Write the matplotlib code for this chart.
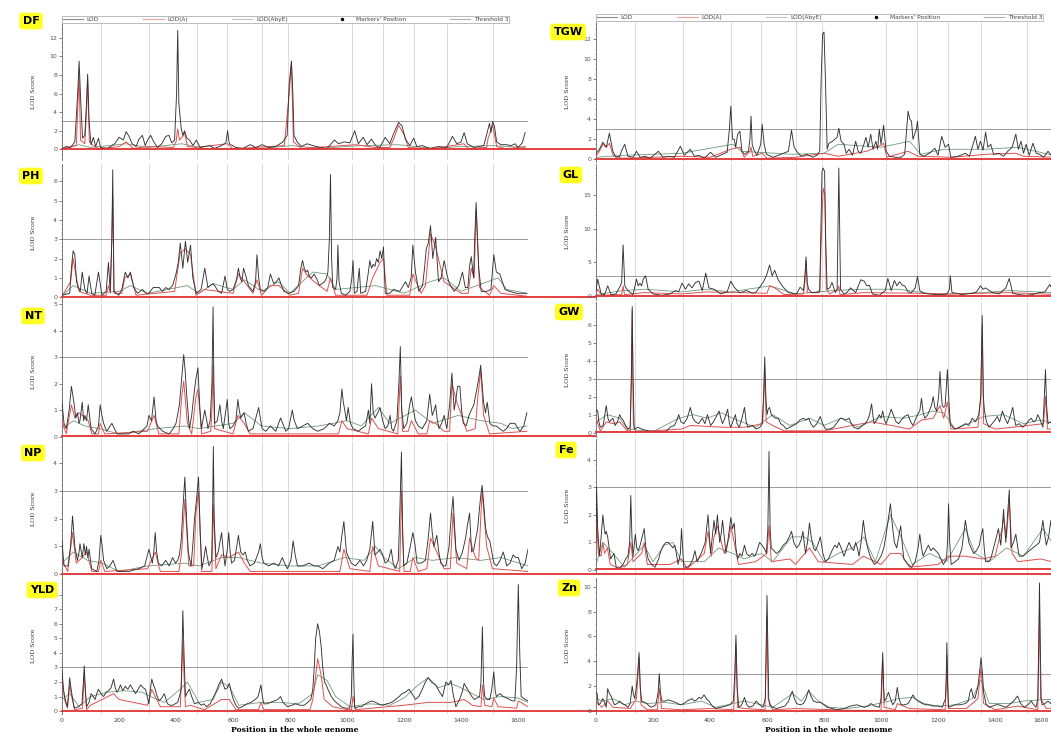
import matplotlib
matplotlib.use("Agg")
import matplotlib.pyplot as plt
from matplotlib.lines import Line2D
from matplotlib.transforms import ScaledTranslation

# QTL scans along the whole genome, 10 traits, LOD / LOD(A) / LOD(AbyE)

chrom_ends = [136, 305, 472, 578, 701, 794, 1017, 1127, 1234, 1350, 1511]
x_ticks = [0, 200, 400, 600, 800, 1000, 1200, 1400, 1600]
threshold = 3

# ---- DF ----
df_lod = [(0,0.1),(15,0.3),(30,0.2),(45,0.8),(55,6),(60,9.5),(66,5),(72,1.2),(80,1.5),(86,5),(90,8.1),(95,3),(102,0.5),(110,1.3),(118,0.3),(128,1.2),(135,0.2),(160,0.1),(185,0.6),(200,1.3),(215,1),(225,1.9),(235,1.4),(246,0.6),(260,0.3),(270,1.1),(282,1.5),(292,0.4),(302,1.1),(311,1.5),(322,0.8),(335,0.2),(350,0.6),(364,1.4),(375,1.5),(385,0.7),(395,1),(402,6),(406,12.8),(410,5),(418,2.3),(424,1.5),(430,2),(438,1.2),(447,1),(460,0.4),(471,1),(485,0.2),(500,0.3),(518,0.4),(535,0.1),(560,0.4),(575,0.7),(581,2),(587,0.6),(610,0.2),(635,0.1),(660,0.5),(680,0.2),(702,0.5),(725,0.2),(750,0.3),(775,0.8),(790,1.5),(797,7),(805,9.5),(810,6),(814,1.5),(825,0.8),(840,0.3),(860,0.6),(880,0.4),(905,0.2),(930,0.1),(956,1),(970,0.6),(990,0.8),(1010,0.7),(1027,2),(1040,0.6),(1057,1.3),(1070,0.5),(1086,1.1),(1100,0.4),(1115,0.2),(1134,1.3),(1150,0.6),(1165,1.8),(1181,2.9),(1193,2.5),(1205,1.1),(1220,0.4),(1234,1.2),(1245,0.3),(1264,0.4),(1290,0.1),(1320,0.3),(1350,0.2),(1370,1.4),(1385,0.6),(1400,0.8),(1411,1.8),(1422,0.6),(1445,0.2),(1480,0.4),(1500,2.8),(1505,1.8),(1511,3.0),(1517,2.5),(1525,0.8),(1540,0.5),(1560,0.5),(1575,0.4),(1590,0.6),(1600,0.2),(1615,0.7),(1625,1.8)]
df_a = [(0,0.05),(50,0.4),(56,5),(60,8.0),(65,1),(80,0.6),(86,4),(90,7.5),(96,0.8),(110,0.4),(130,0.05),(200,0.3),(225,0.8),(250,0.1),(300,0.3),(390,0.2),(400,0.8),(406,2.2),(412,1),(424,1.4),(430,1.8),(440,0.3),(470,0.2),(580,0.6),(600,0.05),(780,0.4),(797,6),(805,9.2),(812,0.8),(840,0.1),(1030,0.5),(1100,0.2),(1150,0.2),(1165,1.2),(1181,2.6),(1200,1.6),(1215,0.2),(1300,0.05),(1410,0.6),(1425,0.1),(1490,0.2),(1495,1.2),(1511,2.6),(1525,0.3),(1560,0.05),(1625,0.3)]
df_axe = [(0,0.05),(60,0.5),(100,0.2),(225,0.6),(300,0.2),(420,0.6),(500,0.1),(700,0.1),(805,0.4),(900,0.1),(1050,0.4),(1180,0.5),(1300,0.1),(1400,0.3),(1510,0.4),(1625,0.2)]

# ---- TGW ----
tgw_lod = [(0,0.6),(12,1.0),(24,1.7),(36,1.2),(47,2.6),(59,0.8),(70,0.2),(83,0.3),(92,1.0),(101,1.5),(112,0.3),(130,0.2),(142,0.8),(155,0.2),(172,0.3),(190,0.1),(219,0.8),(235,0.2),(254,0.3),(275,0.2),(296,1.3),(310,0.4),(331,1.0),(345,0.3),(361,0.4),(380,0.1),(402,0.7),(420,0.2),(444,0.5),(460,0.7),(468,3),(473,5.3),(479,2),(485,2.0),(490,1.2),(497,2.5),(505,2.8),(512,0.8),(521,0.5),(535,0.8),(540,2),(544,4.3),(548,1.5),(553,1.0),(565,0.4),(578,1.5),(583,3.5),(590,1.5),(598,0.5),(620,0.2),(640,0.4),(657,0.6),(675,0.8),(686,2.9),(695,1.2),(704,0.8),(720,0.3),(740,0.5),(760,0.2),(775,0.4),(785,0.8),(790,8),(795,12.5),(800,12.7),(805,8),(811,1.0),(817,1.6),(830,1.8),(846,2.2),(852,3.1),(860,1.8),(870,1.5),(878,0.6),(888,1.0),(900,0.4),(911,1.8),(920,0.8),(929,0.6),(940,1.5),(947,2.2),(955,1.2),(964,2.5),(972,1.0),(982,1.8),(988,1.0),(994,3.0),(1000,1.5),(1009,3.4),(1018,0.8),(1030,0.3),(1050,0.2),(1070,0.2),(1083,0.5),(1090,3),(1095,4.8),(1101,4.0),(1107,3.8),(1112,2.0),(1118,2.5),(1124,3),(1128,3.8),(1136,0.5),(1150,0.3),(1170,0.6),(1189,1.1),(1200,0.4),(1213,2.3),(1225,1.2),(1237,1.5),(1245,0.2),(1270,0.3),(1296,0.6),(1310,0.3),(1320,1.2),(1331,2.3),(1340,1.0),(1349,1.8),(1358,0.9),(1367,2.7),(1375,1.2),(1385,1.5),(1395,0.5),(1414,0.6),(1430,0.3),(1445,0.8),(1460,1.2),(1473,2.5),(1482,1.0),(1491,1.8),(1500,0.6),(1509,1.5),(1520,0.4),(1533,1.6),(1545,0.6),(1556,0.5),(1570,0.2),(1586,0.8),(1600,0.3),(1620,0.4)]
tgw_a = [(0,0.3),(12,0.8),(24,1.5),(36,1.2),(47,1.6),(60,0.4),(90,0.1),(300,0.3),(400,0.2),(473,1.0),(505,1.2),(520,0.2),(540,0.8),(544,1.2),(550,0.3),(583,0.6),(600,0.1),(700,0.2),(800,0.6),(850,0.3),(950,0.8),(1000,1.4),(1009,1.6),(1020,0.2),(1095,0.8),(1130,0.3),(1250,0.2),(1370,0.5),(1473,0.6),(1500,0.3),(1620,0.2)]
tgw_axe = [(0,0.2),(100,0.4),(300,0.6),(480,1.5),(510,0.8),(690,0.5),(800,0.6),(850,1.5),(1000,1.2),(1100,1.8),(1140,0.5),(1220,1.0),(1370,1.0),(1480,1.2),(1620,0.3)]

# ---- PH ----
ph_lod = [(0,0.1),(27,0.2),(33,1.5),(39,2.4),(45,2.2),(51,0.8),(57,0.5),(64,0.3),(71,1.3),(80,0.4),(88,0.2),(95,1.1),(104,0.2),(115,0.1),(128,1.3),(140,0.1),(155,0.3),(163,1.8),(169,0.3),(175,3),(178,6.6),(182,0.3),(199,0.1),(210,0.4),(222,1.3),(231,1.0),(240,1.3),(252,0.5),(265,0.2),(282,0.4),(295,0.2),(305,0.2),(320,0.5),(341,0.5),(352,0.3),(364,0.5),(375,0.4),(388,0.6),(400,1.2),(408,1.8),(415,2.8),(424,1.5),(433,2.9),(441,1.8),(451,2.7),(459,1.0),(471,0.2),(488,0.4),(501,1.5),(512,0.5),(520,0.6),(530,0.7),(540,0.5),(548,0.3),(560,0.2),(572,1.1),(580,0.4),(589,0.3),(600,0.4),(612,0.9),(619,1.5),(625,1.0),(631,0.8),(637,1.5),(645,1.1),(654,0.6),(670,0.3),(679,0.8),(684,2.2),(690,1.0),(696,0.4),(710,0.3),(722,0.5),(731,1.2),(743,0.7),(752,0.8),(761,1.0),(770,0.6),(779,0.3),(795,0.2),(814,0.3),(830,0.6),(838,1.5),(844,1.9),(850,1.5),(856,1.3),(862,1.4),(867,1.1),(875,1.0),(885,1.2),(895,0.9),(903,0.6),(912,0.7),(921,0.8),(928,1.0),(933,1.3),(938,3),(942,6.35),(946,2),(950,0.5),(960,0.4),(965,1.0),(968,2.7),(972,0.8),(980,0.2),(995,0.1),(1010,0.3),(1017,1.0),(1021,1.9),(1026,0.2),(1035,0.3),(1043,1.5),(1048,0.2),(1065,0.3),(1075,1.3),(1080,1.9),(1086,1.5),(1092,1.7),(1098,1.6),(1104,2.0),(1110,1.8),(1116,2.4),(1122,2.0),(1128,2.6),(1134,0.2),(1150,0.2),(1163,0.4),(1185,0.3),(1205,0.8),(1215,0.5),(1225,1.0),(1231,2.7),(1240,1.3),(1252,0.3),(1265,0.6),(1272,1.5),(1278,2.5),(1285,2.8),(1293,3.7),(1301,2.0),(1311,3.1),(1321,0.8),(1330,1.0),(1341,1.9),(1350,1.2),(1359,0.7),(1376,0.3),(1392,0.6),(1405,1.3),(1415,0.5),(1424,0.5),(1430,1.6),(1436,2.1),(1444,1.0),(1448,3.0),(1453,4.9),(1458,3.0),(1462,1.5),(1471,0.3),(1490,0.3),(1505,0.4),(1515,2.2),(1524,1.3),(1536,1.2),(1545,0.8),(1554,0.4),(1571,0.3),(1595,0.2),(1631,0.2)]
ph_a = [(0,0.05),(30,0.8),(39,2.0),(48,1.2),(60,0.3),(100,0.1),(155,0.1),(163,0.6),(170,0.2),(178,5.2),(183,0.2),(210,0.2),(220,1.0),(240,1.2),(260,0.1),(395,0.3),(415,2.3),(433,2.5),(451,2.2),(470,0.1),(500,0.4),(600,0.2),(619,1.2),(640,0.8),(670,0.2),(684,0.9),(700,0.1),(731,0.6),(761,0.6),(800,0.1),(830,0.2),(844,1.5),(862,1.1),(885,0.8),(930,0.3),(942,1.0),(960,0.1),(1070,0.1),(1090,1.0),(1116,1.8),(1128,2.0),(1140,0.1),(1220,0.1),(1231,1.2),(1260,0.2),(1275,0.6),(1293,3.3),(1311,2.6),(1340,0.8),(1400,0.2),(1425,0.2),(1436,1.5),(1446,1.0),(1453,4.5),(1465,0.5),(1500,0.1),(1515,0.6),(1540,0.2),(1631,0.05)]
ph_axe = [(0,0.05),(39,0.6),(100,0.2),(200,0.3),(240,0.6),(300,0.2),(440,0.6),(480,0.2),(530,0.7),(600,0.4),(640,0.9),(700,0.3),(760,0.8),(800,0.2),(850,0.9),(880,1.3),(930,1.2),(960,0.4),(1100,0.6),(1200,0.2),(1290,0.8),(1340,1.0),(1400,0.3),(1530,1.0),(1560,0.4),(1631,0.2)]

# ---- GL ----
gl_lod = [(0,0.8),(6,2.5),(18,0.3),(30,0.2),(41,1.5),(53,0.2),(70,0.3),(83,1.3),(90,2),(95,7.6),(101,1.5),(112,0.8),(130,0.2),(142,2.5),(148,1.5),(154,1.9),(160,1.5),(166,2.5),(174,3.0),(183,1.0),(201,0.3),(231,0.1),(260,0.3),(278,0.8),(290,0.6),(302,1.9),(314,1.0),(325,1.8),(337,1.2),(349,2.0),(361,2.2),(373,0.8),(385,3.4),(396,1.2),(414,1.0),(438,0.3),(460,0.6),(473,2.2),(485,1.3),(503,0.5),(515,0.6),(527,0.8),(550,0.4),(562,0.6),(574,1.3),(586,2.0),(598,3.0),(609,4.6),(618,3.0),(627,3.8),(639,2.4),(657,1.3),(675,0.5),(704,0.3),(716,1.3),(728,0.8),(733,3),(737,5.8),(741,2),(746,1.0),(757,0.5),(775,0.5),(785,0.8),(789,10),(793,18.5),(797,19.0),(802,18.5),(806,8),(811,1.0),(820,1.2),(828,2.0),(840,0.5),(846,1.0),(849,10),(852,19.0),(855,10),(858,1.0),(870,0.3),(880,0.5),(893,1.2),(911,0.5),(929,2.4),(941,2.2),(950,1.5),(959,1.6),(970,0.3),(994,0.1),(1015,0.8),(1024,2.6),(1036,0.8),(1047,2.3),(1056,1.5),(1065,2.1),(1075,1.6),(1083,1.5),(1095,0.6),(1107,0.5),(1120,1.2),(1128,2.9),(1136,0.8),(1150,0.4),(1166,0.3),(1201,0.2),(1231,0.3),(1240,1.0),(1243,3.0),(1249,0.5),(1265,0.4),(1284,0.2),(1300,0.3),(1320,0.4),(1335,0.6),(1349,1.5),(1358,1.0),(1367,1.2),(1380,0.8),(1391,0.5),(1414,0.3),(1438,1.2),(1450,2.6),(1462,0.4),(1485,0.2),(1509,0.1),(1530,0.2),(1556,0.5),(1575,0.6),(1592,1.7),(1604,0.8),(1625,0.5)]
gl_a = [(0,0.3),(6,1.0),(20,0.1),(90,0.2),(95,1.5),(100,0.2),(170,0.5),(300,0.3),(385,0.6),(600,0.4),(609,1.5),(627,1.2),(660,0.2),(728,0.3),(733,2),(737,5.3),(742,0.5),(785,0.5),(790,8),(797,16.0),(803,15),(808,1),(820,0.3),(849,1),(852,1.5),(856,0.2),(940,0.5),(1128,0.4),(1243,0.3),(1450,0.5),(1625,0.2)]
gl_axe = [(0,0.2),(95,0.8),(170,1.0),(300,0.6),(385,1.0),(470,0.6),(610,1.5),(700,0.3),(830,0.8),(940,1.0),(1060,1.0),(1200,0.2),(1360,0.5),(1450,0.8),(1600,0.5)]

# ---- NT ----
nt_lod = [(0,1.3),(7,0.5),(15,0.3),(25,1.0),(33,1.9),(43,1.2),(48,0.7),(54,0.9),(60,0.5),(63,0.6),(71,1.3),(76,0.6),(80,0.8),(86,0.6),(92,1.2),(102,0.3),(116,0.1),(128,0.4),(134,1.2),(140,0.8),(146,0.5),(157,0.2),(175,0.5),(193,0.1),(234,0.1),(250,0.2),(270,0.1),(298,0.4),(305,0.8),(314,0.6),(323,1.5),(330,0.6),(335,0.4),(353,0.2),(376,0.1),(390,0.3),(400,0.5),(412,1.2),(420,2.2),(427,3.1),(432,2.5),(438,1.5),(447,0.3),(455,0.8),(462,1.5),(470,2.2),(477,2.6),(483,1.2),(489,0.3),(501,1.0),(508,0.6),(512,0.3),(520,0.6),(526,2),(530,4.9),(533,2),(536,0.5),(545,0.6),(554,1.2),(560,0.6),(566,0.3),(580,1.4),(585,0.5),(589,0.3),(600,0.4),(610,0.6),(617,1.4),(622,1.0),(627,0.7),(633,0.8),(639,0.9),(646,0.5),(654,0.2),(670,0.3),(690,1.1),(702,0.3),(715,0.2),(731,0.4),(750,0.2),(767,0.7),(785,0.2),(795,0.3),(808,1.0),(815,0.6),(826,0.3),(845,0.4),(862,0.5),(880,0.3),(897,0.2),(920,0.3),(938,0.5),(955,0.4),(968,0.6),(975,0.9),(982,1.8),(987,1.3),(992,1.0),(998,0.6),(1004,1.1),(1012,0.5),(1021,0.3),(1040,0.2),(1051,0.3),(1065,0.4),(1075,1.0),(1080,0.5),(1086,2.0),(1092,0.9),(1098,0.7),(1108,0.9),(1116,1.1),(1125,0.6),(1134,0.3),(1143,0.4),(1151,0.8),(1157,0.3),(1163,0.2),(1175,0.6),(1182,2),(1187,3.4),(1192,1),(1199,0.3),(1210,0.5),(1220,1.2),(1226,1.5),(1233,1.0),(1240,0.6),(1250,0.4),(1264,0.3),(1280,0.6),(1290,1.6),(1299,0.8),(1306,1.0),(1311,1.2),(1317,0.6),(1323,0.3),(1332,0.5),(1341,0.8),(1350,0.3),(1360,1.2),(1368,2.4),(1376,1.0),(1382,1.4),(1388,1.9),(1396,1.9),(1402,1.0),(1408,0.5),(1418,0.4),(1428,0.8),(1436,1.0),(1445,1.2),(1452,1.6),(1459,2.0),(1465,2.4),(1469,2.7),(1474,2.0),(1479,1.3),(1486,0.9),(1492,1.3),(1501,0.5),(1512,0.4),(1524,0.4),(1535,0.3),(1548,0.2),(1560,0.3),(1572,0.5),(1589,0.5),(1600,0.3),(1607,0.2),(1620,0.4),(1631,0.9)]
nt_a = [(0,0.6),(15,0.1),(33,1.2),(45,0.7),(60,0.9),(71,0.8),(92,0.6),(105,0.1),(128,0.1),(134,0.5),(150,0.1),(300,0.2),(323,0.8),(340,0.1),(410,0.1),(420,1.5),(427,2.1),(440,0.5),(455,0.1),(470,1.5),(477,1.8),(490,0.1),(522,0.2),(526,1),(530,2.7),(535,0.3),(600,0.1),(617,0.8),(639,0.5),(660,0.1),(800,0.1),(970,0.1),(982,0.6),(1000,0.3),(1075,0.1),(1086,0.7),(1110,0.3),(1178,0.1),(1187,2.3),(1195,0.2),(1215,0.2),(1226,0.6),(1250,0.1),(1280,0.1),(1290,0.6),(1311,0.5),(1340,0.2),(1360,0.2),(1368,2.0),(1388,1.2),(1396,1.0),(1420,0.2),(1450,0.3),(1459,1.5),(1469,2.5),(1479,0.8),(1500,0.1),(1631,0.2)]
nt_axe = [(0,0.3),(40,0.6),(80,0.4),(130,0.3),(200,0.1),(330,0.3),(430,0.4),(480,0.3),(600,0.5),(640,0.9),(700,0.4),(800,0.3),(900,0.4),(1000,0.6),(1050,0.4),(1110,1.1),(1150,0.5),(1240,1.0),(1300,0.5),(1390,0.8),(1470,0.6),(1540,0.5),(1580,0.3),(1631,0.4)]

# ---- GW ----
gw_lod = [(0,1.3),(6,1.2),(10,0.6),(15,0.3),(25,0.4),(36,1.5),(42,0.8),(47,0.6),(53,0.7),(59,0.8),(67,0.4),(75,0.6),(83,1.0),(89,0.8),(95,0.7),(104,0.4),(112,0.2),(120,0.3),(124,3),(127,7.0),(130,3),(134,0.2),(148,0.3),(160,0.2),(183,0.1),(210,0.05),(231,0.05),(248,0.1),(260,0.3),(275,0.4),(284,0.7),(290,1.0),(298,0.6),(308,0.5),(320,0.8),(331,1.4),(340,0.8),(349,0.6),(360,0.5),(373,0.8),(382,0.5),(391,1.0),(402,0.4),(412,0.6),(422,0.9),(432,1.2),(438,0.8),(444,0.5),(452,0.8),(462,1.3),(468,0.5),(473,0.3),(480,0.6),(489,1.0),(495,0.5),(503,0.3),(512,0.8),(521,1.4),(527,0.6),(533,0.3),(548,0.4),(562,0.2),(575,0.3),(583,0.5),(588,2),(592,4.2),(596,2),(600,1.0),(604,1.3),(609,1.4),(615,1.0),(621,0.9),(630,0.8),(639,0.8),(648,0.5),(657,0.4),(668,0.2),(680,0.3),(692,0.4),(704,0.5),(715,0.7),(728,0.8),(737,0.7),(746,0.8),(754,0.5),(763,0.3),(775,0.5),(787,0.9),(795,0.5),(805,0.2),(820,0.2),(834,0.3),(848,0.6),(857,0.8),(864,0.8),(876,0.7),(888,0.8),(896,0.5),(905,0.3),(920,0.2),(935,0.4),(944,0.5),(953,0.7),(960,1.0),(967,1.6),(972,0.9),(976,0.5),(985,0.7),(994,1.0),(1000,0.8),(1006,1.2),(1012,0.7),(1018,0.5),(1027,0.9),(1036,1.3),(1045,0.9),(1053,0.6),(1062,0.5),(1071,0.7),(1082,0.9),(1095,1.0),(1104,0.6),(1112,0.4),(1120,0.7),(1128,1.0),(1136,1.2),(1142,1.9),(1148,1.1),(1154,0.8),(1164,1.0),(1172,1.3),(1177,1.5),(1183,2.0),(1189,1.4),(1195,1.2),(1202,2),(1207,3.4),(1211,2.2),(1215,1.5),(1220,1.4),(1225,1.5),(1229,2.5),(1233,3.5),(1238,1.8),(1243,0.5),(1252,0.3),(1260,0.2),(1275,0.3),(1296,0.5),(1308,0.4),(1320,0.8),(1332,0.6),(1343,1.0),(1350,2),(1355,6.5),(1359,2),(1363,1.2),(1370,0.6),(1379,0.3),(1390,0.5),(1400,0.7),(1408,0.9),(1416,0.6),(1426,1.2),(1435,0.8),(1444,0.5),(1453,0.9),(1462,1.4),(1468,0.8),(1473,0.4),(1485,0.5),(1497,0.3),(1510,0.5),(1520,0.7),(1527,0.8),(1535,0.6),(1544,0.7),(1550,1.0),(1556,0.8),(1568,0.3),(1573,2),(1577,3.5),(1581,1.5),(1586,0.5),(1595,0.6),(1604,0.4),(1620,0.5),(1635,0.8)]
gw_a = [(0,0.8),(15,0.1),(36,0.6),(60,0.5),(83,0.6),(110,0.1),(120,0.1),(124,3),(127,6.8),(131,0.5),(140,0.05),(300,0.2),(331,0.4),(450,0.3),(521,0.3),(585,0.5),(592,3.5),(597,0.6),(620,0.4),(660,0.1),(800,0.1),(967,0.6),(1036,0.4),(1100,0.2),(1142,0.7),(1183,0.8),(1207,1.5),(1220,0.8),(1233,1.7),(1245,0.2),(1340,0.3),(1350,2),(1355,6.0),(1360,0.5),(1400,0.2),(1462,0.3),(1570,0.5),(1577,2.0),(1584,0.2),(1635,0.2)]
gw_axe = [(0,0.6),(40,1.0),(83,0.8),(110,0.2),(200,0.05),(290,0.8),(340,1.0),(390,0.8),(440,1.1),(480,0.8),(560,0.3),(620,1.0),(680,0.4),(750,0.8),(800,0.4),(860,0.8),(920,0.3),(1000,0.9),(1080,0.8),(1140,1.0),(1180,1.2),(1220,1.1),(1260,0.2),(1320,0.6),(1360,0.9),(1430,1.0),(1500,0.5),(1560,0.7),(1635,0.4)]

# ---- NP ----
np_lod = [(0,1.2),(7,0.3),(21,0.3),(30,1.0),(37,2.1),(45,1.0),(54,0.5),(60,0.8),(63,1.1),(71,0.6),(77,1.1),(82,0.7),(86,1.0),(91,0.6),(95,0.9),(104,0.2),(122,0.1),(130,0.5),(136,1.4),(141,1.0),(146,0.5),(157,0.2),(168,0.3),(179,0.5),(193,0.1),(234,0.1),(270,0.2),(290,0.3),(305,0.9),(317,0.4),(322,0.8),(327,1.5),(332,0.8),(338,0.4),(350,0.3),(364,0.5),(376,0.3),(388,0.6),(398,0.4),(406,0.5),(412,0.7),(418,1.2),(425,2.5),(431,3.5),(437,2.0),(443,0.8),(453,0.3),(460,1.2),(465,2.0),(473,2.8),(479,3.5),(485,1.5),(491,0.2),(498,0.6),(504,1.0),(510,0.6),(516,0.3),(525,0.5),(528,2),(531,4.6),(534,2),(540,0.6),(548,0.8),(555,1.2),(560,1.5),(566,0.8),(572,0.3),(580,0.9),(585,1.5),(590,0.8),(595,0.4),(605,0.5),(613,1.0),(619,1.4),(623,1.1),(627,0.8),(635,0.7),(643,0.8),(650,0.5),(660,0.3),(675,0.4),(690,0.8),(696,1.1),(702,0.6),(708,0.4),(725,0.3),(743,0.4),(760,0.3),(773,0.6),(785,0.3),(791,0.2),(803,0.5),(811,1.2),(818,0.7),(826,0.3),(845,0.3),(867,0.4),(885,0.3),(897,0.3),(915,0.2),(938,0.4),(955,0.5),(968,1.0),(975,0.8),(982,1.4),(989,1.9),(994,1.3),(998,0.8),(1006,0.6),(1015,0.4),(1030,0.3),(1045,0.5),(1058,0.3),(1069,0.5),(1080,0.9),(1090,1.9),(1095,1.2),(1098,0.7),(1108,0.8),(1116,0.9),(1125,0.7),(1134,0.4),(1145,0.5),(1155,0.9),(1162,0.4),(1169,0.2),(1180,0.5),(1186,2.5),(1191,4.4),(1195,1.5),(1199,0.3),(1210,0.4),(1222,1.0),(1231,1.5),(1238,1.1),(1246,0.4),(1260,0.4),(1275,0.5),(1285,1.3),(1293,2.2),(1299,1.5),(1305,1.0),(1310,1.2),(1315,1.4),(1322,0.8),(1329,0.4),(1338,0.3),(1347,0.3),(1358,1.0),(1365,2.0),(1372,2.8),(1378,1.6),(1382,0.9),(1393,0.5),(1405,0.8),(1416,1.3),(1423,1.8),(1430,2.2),(1437,0.8),(1445,0.9),(1452,1.3),(1458,1.6),(1465,2.4),(1470,2.9),(1474,3.2),(1480,2.5),(1485,1.8),(1489,1.5),(1495,1.3),(1501,1.2),(1508,0.8),(1515,0.4),(1525,0.3),(1537,0.5),(1548,0.8),(1556,0.5),(1560,0.3),(1572,0.4),(1583,0.7),(1592,0.6),(1601,0.6),(1613,0.2),(1625,0.4),(1635,0.9)]
np_a = [(0,0.5),(20,0.1),(37,1.5),(50,0.4),(71,0.6),(86,0.8),(105,0.1),(128,0.1),(136,0.5),(150,0.1),(300,0.2),(327,0.8),(345,0.1),(410,0.1),(420,0.8),(431,2.7),(445,0.3),(462,0.3),(470,2.2),(479,3.0),(490,0.1),(526,0.1),(531,2.5),(540,0.2),(560,0.7),(585,0.6),(619,0.8),(640,0.4),(660,0.1),(800,0.1),(975,0.1),(989,0.9),(1010,0.2),(1080,0.1),(1090,1.0),(1110,0.3),(1185,0.1),(1191,3.0),(1200,0.1),(1222,0.1),(1231,0.6),(1250,0.1),(1280,0.2),(1293,1.3),(1315,0.8),(1340,0.2),(1362,0.2),(1372,2.2),(1385,0.4),(1420,0.2),(1430,1.3),(1450,0.6),(1462,0.5),(1474,3.0),(1490,1.0),(1510,0.2),(1635,0.1)]
np_axe = [(0,0.4),(40,0.8),(90,0.5),(140,0.4),(200,0.1),(300,0.3),(430,0.4),(480,0.3),(560,0.6),(620,0.6),(700,0.4),(800,0.3),(900,0.3),(990,0.6),(1060,0.5),(1100,1.0),(1130,0.6),(1180,0.2),(1240,0.6),(1300,0.5),(1380,0.6),(1470,0.5),(1540,0.6),(1635,0.3)]

# ---- Fe ----
fe_lod = [(0,1.0),(2,3.0),(6,1.5),(12,0.5),(18,1.2),(24,2.0),(28,1.6),(32,1.3),(36,1.4),(41,1.2),(46,0.8),(51,0.4),(57,0.5),(63,0.6),(71,0.1),(85,0.1),(95,0.2),(104,0.4),(112,0.5),(118,1.0),(122,2.7),(126,1.2),(130,0.5),(138,1.3),(143,0.8),(148,0.7),(155,0.9),(162,1.2),(169,1.5),(175,0.8),(183,0.4),(195,0.2),(207,0.1),(220,0.4),(228,0.7),(237,0.9),(246,1.0),(254,1.0),(262,0.9),(270,0.8),(276,0.9),(282,0.6),(288,0.2),(296,0.6),(300,1.5),(304,0.8),(308,0.1),(320,0.1),(331,0.2),(340,0.4),(347,0.7),(355,0.3),(364,0.5),(373,0.7),(383,1.0),(388,1.5),(393,2.0),(398,1.2),(402,0.6),(408,1.2),(414,1.8),(420,1.3),(426,2.0),(430,1.5),(434,1.0),(439,1.3),(444,1.8),(450,1.2),(456,0.6),(462,1.0),(468,1.5),(473,1.9),(479,1.5),(485,1.7),(491,0.8),(497,0.4),(505,0.6),(512,0.5),(521,0.9),(528,0.6),(538,0.5),(548,0.6),(556,0.5),(562,0.6),(568,0.8),(574,1.0),(582,0.9),(589,0.8),(594,0.7),(598,0.6),(603,1.5),(607,4.3),(611,1.5),(615,0.8),(624,0.7),(633,0.6),(645,0.7),(657,0.9),(668,1.0),(678,1.2),(686,1.4),(694,1.0),(704,0.8),(712,0.9),(720,1.1),(726,1.4),(735,0.6),(742,1.0),(749,1.7),(755,1.2),(763,0.8),(770,0.7),(778,0.9),(787,1.2),(796,0.6),(805,0.3),(815,0.4),(828,0.7),(838,0.9),(846,0.8),(852,1.0),(860,0.8),(870,0.5),(880,0.8),(888,1.0),(896,0.8),(904,0.7),(911,1.0),(917,0.8),(923,0.5),(930,1.0),(938,1.8),(944,1.3),(953,0.8),(962,0.5),(976,0.2),(988,0.3),(1000,0.5),(1010,0.8),(1018,1.3),(1025,1.8),(1033,2.4),(1040,1.6),(1047,1.0),(1055,0.8),(1062,1.2),(1069,1.6),(1075,0.9),(1080,0.4),(1095,0.2),(1107,0.1),(1120,0.3),(1130,0.8),(1136,1.3),(1142,0.8),(1148,0.5),(1157,0.7),(1166,0.9),(1175,0.7),(1183,0.8),(1192,0.7),(1201,0.6),(1210,0.4),(1219,0.2),(1230,0.4),(1234,1.2),(1237,2.4),(1241,1.0),(1246,0.2),(1260,0.3),(1272,0.4),(1284,0.8),(1290,1.3),(1296,1.8),(1302,1.4),(1308,1.0),(1316,0.8),(1325,0.6),(1335,0.7),(1345,0.9),(1350,1.2),(1357,1.5),(1362,0.8),(1367,0.3),(1376,0.3),(1385,0.4),(1395,0.8),(1405,1.2),(1412,1.5),(1420,0.9),(1426,1.6),(1430,2.2),(1434,1.5),(1438,1.0),(1444,2.0),(1450,2.9),(1456,0.8),(1465,1.0),(1473,1.3),(1480,0.8),(1485,0.5),(1497,0.5),(1509,0.6),(1520,0.7),(1533,0.8),(1545,0.9),(1556,1.0),(1562,1.4),(1568,1.8),(1574,1.3),(1580,0.9),(1588,1.2),(1596,1.8),(1604,0.8),(1620,1.0),(1635,1.5)]
fe_a = [(0,0.8),(2,2.0),(8,0.6),(18,0.5),(24,1.0),(30,0.6),(40,0.8),(50,0.2),(80,0.05),(110,0.2),(122,1.0),(130,0.3),(160,0.6),(169,1.0),(180,0.2),(260,0.2),(300,0.4),(320,0.05),(380,0.6),(393,1.4),(405,0.5),(414,1.2),(426,1.6),(440,1.0),(450,0.6),(468,1.2),(473,1.6),(485,1.0),(500,0.2),(560,0.3),(600,0.6),(607,1.6),(615,0.3),(680,0.4),(700,0.2),(749,0.8),(780,0.3),(900,0.2),(938,0.5),(1000,0.2),(1033,0.6),(1069,0.6),(1100,0.1),(1200,0.2),(1237,0.5),(1296,0.5),(1357,0.4),(1400,0.5),(1412,1.0),(1425,1.5),(1430,1.9),(1440,1.2),(1450,2.5),(1460,0.6),(1480,0.3),(1560,0.4),(1600,0.3),(1635,0.8)]
fe_axe = [(0,0.2),(24,1.0),(60,0.6),(100,0.1),(169,0.9),(200,0.3),(240,0.9),(270,1.0),(300,0.3),(380,0.3),(430,0.8),(480,0.6),(520,0.4),(580,0.6),(620,0.3),(686,1.2),(730,1.2),(760,1.0),(800,0.3),(850,0.6),(900,0.8),(940,1.2),(980,0.3),(1033,2.0),(1070,1.2),(1110,0.2),(1170,0.6),(1230,0.3),(1296,1.5),(1330,0.6),(1380,0.3),(1440,0.8),(1500,0.5),(1568,1.5),(1600,1.0),(1635,1.3)]

# ---- YLD ----
yld_lod = [(0,2.8),(5,1.5),(9,1.0),(14,0.6),(19,0.3),(23,1.2),(27,2.3),(32,1.5),(36,1.0),(43,0.2),(57,0.3),(70,0.5),(75,2),(78,3.1),(82,1.5),(86,0.3),(95,0.6),(102,1.2),(110,1.0),(116,0.8),(122,1.2),(128,1.5),(137,1.2),(146,1.0),(155,1.3),(163,1.4),(172,1.6),(181,2.2),(187,1.6),(193,1.3),(199,1.5),(205,1.8),(213,1.4),(222,1.7),(231,1.5),(240,1.8),(249,1.5),(258,1.2),(267,1.5),(276,1.8),(285,1.6),(293,1.5),(299,1.0),(305,0.5),(310,1.5),(315,2.2),(321,1.8),(327,1.5),(334,1.0),(341,0.7),(350,0.9),(359,1.2),(365,0.8),(370,0.5),(380,0.4),(388,0.4),(397,0.5),(406,0.6),(412,1.0),(418,1.5),(421,4),(424,6.9),(428,4),(433,1.0),(440,1.3),(447,1.5),(455,1.0),(465,0.5),(477,0.6),(489,0.4),(498,0.5),(507,0.3),(520,0.5),(530,0.9),(542,1.4),(550,1.8),(560,2.2),(566,1.8),(572,1.5),(580,1.6),(587,1.9),(594,1.3),(601,0.8),(610,0.4),(619,0.2),(633,0.3),(649,0.5),(663,0.6),(678,0.8),(688,1.0),(698,1.8),(703,1.0),(708,0.5),(720,0.5),(731,0.6),(745,0.7),(757,0.8),(767,1.0),(775,0.6),(791,0.3),(805,0.4),(820,0.5),(835,0.4),(850,0.4),(862,0.6),(873,0.8),(880,1.5),(885,3.0),(890,5.0),(897,6.0),(903,5.5),(909,4.5),(915,3.0),(921,2.0),(927,1.8),(933,1.5),(945,1.0),(956,0.7),(968,0.5),(980,0.3),(995,0.2),(1009,0.2),(1015,1),(1018,3.5),(1021,5.3),(1024,2),(1027,0.2),(1040,0.3),(1051,0.3),(1065,0.5),(1075,0.6),(1086,0.7),(1100,0.6),(1110,0.5),(1122,0.4),(1140,0.5),(1157,0.6),(1170,0.8),(1183,1.0),(1193,1.2),(1205,1.3),(1217,1.5),(1228,1.2),(1240,0.8),(1252,1.0),(1264,1.5),(1275,2.0),(1285,2.3),(1296,2.0),(1311,1.8),(1322,1.4),(1335,1.0),(1341,1.5),(1347,2.0),(1356,1.8),(1365,2.1),(1372,1.2),(1382,0.3),(1395,0.8),(1404,1.3),(1411,1.9),(1420,1.6),(1429,1.3),(1438,1.0),(1447,0.8),(1456,0.9),(1465,1.0),(1470,2),(1475,5.8),(1479,2),(1483,1.0),(1492,0.8),(1501,0.8),(1508,1.5),(1515,2.7),(1520,1.4),(1524,1.0),(1536,1.2),(1548,1.0),(1560,0.9),(1570,0.8),(1580,0.7),(1589,0.7),(1595,3),(1601,8.7),(1606,4),(1611,1.0),(1618,0.9),(1625,0.8),(1635,0.7)]
yld_a = [(0,2.3),(9,0.8),(19,0.2),(27,1.8),(36,0.8),(45,0.1),(72,0.2),(78,2.5),(86,0.1),(100,0.4),(181,1.2),(200,0.8),(300,0.4),(315,1.5),(327,1.0),(345,0.3),(415,0.3),(421,3),(424,4.8),(428,2.5),(433,0.3),(450,0.4),(500,0.1),(560,0.8),(587,0.8),(610,0.1),(690,0.1),(698,0.6),(708,0.1),(870,0.1),(880,0.8),(897,3.6),(909,2.5),(920,0.8),(950,0.3),(1000,0.1),(1015,0.1),(1021,1.0),(1030,0.1),(1200,0.4),(1285,0.6),(1365,0.6),(1411,0.8),(1440,0.4),(1470,0.3),(1475,1.8),(1483,0.4),(1508,0.3),(1515,0.9),(1530,0.3),(1595,0.2),(1601,0.7),(1635,0.3)]
yld_axe = [(0,0.8),(27,1.2),(60,0.3),(100,1.0),(160,1.3),(220,1.4),(280,1.3),(310,1.0),(360,0.6),(420,1.6),(440,2.0),(480,0.6),(530,0.8),(560,2.0),(590,1.6),(620,0.4),(700,0.6),(760,0.6),(830,0.5),(880,1.2),(897,2.5),(930,2.1),(960,1.0),(1010,0.3),(1080,0.5),(1150,0.4),(1200,0.9),(1250,1.8),(1285,2.3),(1320,1.6),(1365,1.9),(1400,1.6),(1430,1.3),(1480,0.8),(1540,1.0),(1600,0.9),(1635,0.6)]

# ---- Zn ----
zn_lod = [(0,1.5),(4,1.4),(8,0.5),(15,0.6),(24,1.0),(30,0.7),(36,0.3),(41,1.8),(47,1.4),(53,1.2),(59,0.8),(65,0.5),(74,0.6),(83,0.8),(92,0.6),(101,0.5),(112,0.3),(120,0.6),(127,2.0),(131,1.4),(136,1.0),(142,2.0),(146,3),(151,4.7),(155,2),(160,0.8),(170,0.7),(178,0.6),(187,0.4),(195,0.3),(210,0.5),(218,1.5),(222,3.0),(226,1.5),(231,0.8),(242,0.8),(254,0.9),(266,0.8),(278,0.7),(287,0.6),(296,0.5),(308,0.6),(320,0.8),(328,0.9),(337,1.0),(345,0.8),(353,0.9),(361,1.1),(370,1.0),(379,1.3),(387,1.0),(396,0.8),(408,0.4),(420,0.2),(438,0.3),(456,0.4),(470,0.5),(482,0.8),(487,3),(491,6.1),(495,2),(501,0.3),(511,0.5),(521,1.1),(529,0.5),(538,0.3),(550,0.4),(562,0.8),(574,0.5),(586,0.3),(594,1),(597,5),(600,9.3),(603,5),(606,1),(609,0.5),(620,0.3),(633,0.2),(648,0.3),(663,0.4),(676,0.8),(683,1.3),(689,1.6),(696,1.0),(704,0.6),(716,0.5),(728,0.6),(737,1.0),(746,1.7),(754,1.2),(763,0.8),(775,0.7),(787,0.7),(800,0.5),(811,0.3),(828,0.2),(846,0.1),(870,0.2),(893,0.4),(915,0.5),(941,0.3),(955,0.4),(964,0.6),(978,0.4),(994,0.3),(1000,1),(1003,3),(1006,4.7),(1009,2),(1012,0.8),(1018,1.0),(1026,1.5),(1033,1.0),(1041,0.5),(1050,0.8),(1057,1.9),(1063,1.0),(1071,0.5),(1083,0.5),(1095,0.6),(1103,0.9),(1112,1.3),(1120,1.0),(1130,0.8),(1145,0.6),(1157,0.5),(1166,0.5),(1182,0.4),(1201,0.4),(1215,0.3),(1226,1),(1229,3),(1231,5.5),(1234,2),(1237,0.3),(1248,0.4),(1260,0.5),(1278,0.5),(1296,0.6),(1306,0.8),(1312,1.5),(1317,1.8),(1323,1.2),(1329,1.0),(1335,1.5),(1340,2.0),(1345,3.0),(1351,4.3),(1356,3.0),(1360,1.5),(1368,0.6),(1379,0.3),(1392,0.4),(1403,0.5),(1414,0.5),(1426,0.4),(1438,0.3),(1450,0.5),(1465,0.8),(1479,1.2),(1490,0.6),(1503,0.3),(1515,0.5),(1527,0.8),(1536,0.5),(1544,0.3),(1550,1),(1553,5),(1556,10.3),(1559,5),(1562,1),(1565,0.5),(1575,0.6),(1586,0.8),(1595,0.6),(1604,1.0),(1620,0.8),(1635,0.9)]
zn_a = [(0,0.8),(20,0.3),(41,0.8),(60,0.3),(120,0.2),(142,1.0),(151,4.3),(158,0.5),(180,0.1),(215,0.1),(222,1.8),(230,0.2),(300,0.1),(400,0.2),(483,0.1),(487,2),(491,5.5),(497,0.3),(520,0.2),(593,0.1),(597,4),(600,7.7),(604,1),(620,0.1),(700,0.2),(900,0.05),(1000,0.05),(1003,2),(1006,4.0),(1011,0.3),(1050,0.1),(1057,0.6),(1100,0.2),(1225,0.1),(1229,2),(1231,4.5),(1236,0.2),(1300,0.2),(1340,1.0),(1351,3.5),(1360,0.6),(1400,0.1),(1480,0.4),(1550,0.1),(1553,4),(1556,8.0),(1560,1),(1580,0.2),(1635,0.3)]
zn_axe = [(0,1.0),(24,0.8),(60,1.0),(100,0.5),(140,0.8),(180,0.6),(240,0.7),(300,0.5),(370,0.8),(420,0.3),(520,0.8),(560,0.6),(620,0.3),(690,1.4),(720,0.8),(746,1.6),(780,0.8),(820,0.3),(880,0.2),(950,0.4),(1030,0.8),(1060,1.0),(1110,1.1),(1150,0.6),(1200,0.4),(1260,0.5),(1320,1.0),(1350,2.5),(1380,0.6),(1450,0.6),(1500,0.8),(1560,0.9),(1635,1.0)]

# name, data, ylim, yticks, column, (top px, bottom px), label box centre px
panels = [
    ("DF", df_lod, df_a, df_axe, (-1.15, 13.5), range(0, 13, 2), 0, (24, 160), (31, 21)),
    ("PH", ph_lod, ph_a, ph_axe, (-0.25, 6.9), range(0, 7), 0, (164, 302), (31, 176)),
    ("NT", nt_lod, nt_a, nt_axe, (-0.13, 5.05), range(0, 6), 0, (303, 440), (33, 316)),
    ("NP", np_lod, np_a, np_axe, (-0.1, 4.8), range(0, 5), 0, (441, 577), (33, 453)),
    ("YLD", yld_lod, yld_a, yld_axe, (-0.2, 9.15), range(0, 9), 0, (578, 714), (42, 590)),
    ("TGW", tgw_lod, tgw_a, tgw_axe, (-0.27, 13.7), range(0, 13, 2), 1, (22, 162), (568, 32)),
    ("GL", gl_lod, gl_a, gl_axe, (-0.6, 19.6), range(0, 16, 5), 1, (164, 300), (571, 175)),
    ("GW", gw_lod, gw_a, gw_axe, (-0.24, 7.25), range(0, 7), 1, (302, 437), (569, 312)),
    ("Fe", fe_lod, fe_a, fe_axe, (-0.11, 4.75), range(0, 5), 1, (439, 573), (566, 450)),
    ("Zn", zn_lod, zn_a, zn_axe, (-0.24, 10.7), range(0, 11, 2), 1, (578, 714), (569, 588)),
]

W, H = 1051, 732
col_left = [62, 596]
col_width = 466
x_max = 1635

c_lod = '#333333'
c_a = '#e05050'
c_axe = '#6f9a7c'

fig = plt.figure(figsize=(W / 100, H / 100), dpi=100)
fig.patch.set_facecolor('white')


def split(pairs):
    return [p[0] for p in pairs], [p[1] for p in pairs]


for name, lod, a, axe, ylim, yt, col, (top, bot), (lx, ly) in panels:
    ax = fig.add_axes([col_left[col] / W, 1 - bot / H, col_width / W, (bot - top) / H])
    ax.set_xlim(0, x_max)
    ax.set_ylim(*ylim)

    for c in chrom_ends:
        ax.axvline(c, color='#d4d4d4', lw=0.6, zorder=0)
    ax.axhline(threshold, color='#9a9a9a', lw=0.7, zorder=1)

    x, y = split(axe)
    ax.plot(x, y, color=c_axe, lw=0.6, zorder=2)
    x, y = split(a)
    ax.plot(x, y, color=c_a, lw=0.7, zorder=3)
    x, y = split(lod)
    ax.plot(x, y, color=c_lod, lw=0.65, zorder=4)

    # marker positions strip along the bottom
    ax.plot([0, x_max], [0.02, 0.02], transform=ax.get_yaxis_transform(),
            color='#e03030', lw=1.3, zorder=5, clip_on=False)

    for s in ['top', 'right', 'bottom']:
        ax.spines[s].set_visible(False)
    ax.spines['left'].set_color('#666666')
    ax.spines['left'].set_linewidth(0.6)

    ax.set_yticks(list(yt))
    ax.tick_params(axis='y', labelsize=4.5, colors='#555555', length=2, width=0.5, pad=1.5)
    ax.minorticks_on()
    ax.tick_params(axis='y', which='minor', length=1, width=0.4, colors='#888888')
    ax.tick_params(axis='x', which='minor', length=0)
    ax.set_ylabel('LOD Score', fontsize=4.5, family='serif', color='#333333')
    ax.yaxis.set_label_coords(-0.055, 0.5)

    if name in ('YLD', 'Zn'):
        ax.set_xticks(x_ticks)
        ax.tick_params(axis='x', labelsize=4.5, colors='#444444', length=0, pad=3)
        ax.set_xlabel('Position in the whole genome', fontsize=5.5, family='serif',
                      weight='bold', labelpad=2)
        if col == 1:
            # last label sits on the figure edge
            last = ax.get_xticklabels()[-1]
            last.set_ha('right')
            last.set_transform(last.get_transform() +
                               ScaledTranslation(-2 / 72, 0, fig.dpi_scale_trans))
    else:
        ax.set_xticks([])

    if name in ('DF', 'TGW'):
        handles = [
            Line2D([], [], color='#8c8c8c', lw=0.8),
            Line2D([], [], color='#f0a0a0', lw=0.8),
            Line2D([], [], color='#b8c8bc', lw=0.8),
            Line2D([], [], color='black', marker='o', ms=1.5, lw=0),
            Line2D([], [], color='#b0b0b0', lw=0.8),
        ]
        labels = ['LOD', 'LOD(A)', 'LOD(AbyE)', "Markers' Position", 'Threshold 3']
        leg = ax.legend(handles, labels, loc='lower left', ncol=5, mode='expand',
                        bbox_to_anchor=(0, 1.005, 0.96, 0.055), fontsize=4.2,
                        frameon=True, borderpad=0.15, handlelength=3.5,
                        handletextpad=0.6, borderaxespad=0)
        leg.get_frame().set_edgecolor('#888888')
        leg.get_frame().set_linewidth(0.5)
        leg.get_frame().set_boxstyle('square', pad=0)
        for t in leg.get_texts():
            t.set_color('#444444')

    fig.text(lx / W, 1 - ly / H, name, fontsize=8, weight='bold', ha='center', va='center',
             bbox=dict(boxstyle='round,pad=0.3', fc='#ffff22', ec='none'))

fig.savefig('out.png', dpi=100, facecolor='white')
